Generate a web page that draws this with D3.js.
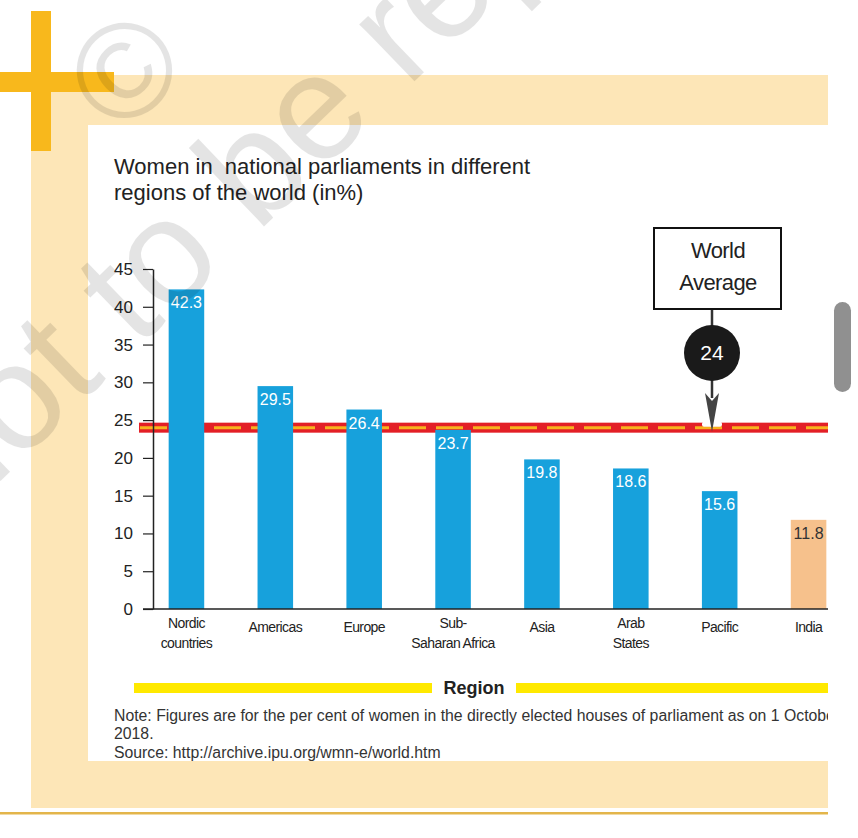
<!DOCTYPE html>
<html>
<head>
<meta charset="utf-8">
<script src="https://cdn.jsdelivr.net/npm/d3@7"></script>
<style>
  html, body { margin: 0; padding: 0; background: #fff; }
  svg { display: block; font-family: "Liberation Sans", Arial, sans-serif; }
</style>
</head>
<body>
<div id="chart"></div>
<script>
// Chart data
const regions = ["Nordic countries", "Americas", "Europe", "Sub-Saharan Africa", "Asia", "Arab States", "Pacific", "India"];
const regionLines = [["Nordic", "countries"], ["Americas"], ["Europe"], ["Sub-", "Saharan Africa"], ["Asia"], ["Arab", "States"], ["Pacific"], ["India"]];
const shares = [42.3, 29.5, 26.4, 23.7, 19.8, 18.6, 15.6, 11.8];
const worldAverage = 24;
const yTicks = [0, 5, 10, 15, 20, 25, 30, 35, 40, 45];

const titleLines = ["Women in  national parliaments in different", "regions of the world (in%)"];
const noteLines = [
    "Note: Figures are for the per cent of women in the directly elected houses of parliament as on 1 October",
    "2018.",
    "Source: http://archive.ipu.org/wmn-e/world.htm"
];

const W = 858, H = 838;
const PAGE_RIGHT = 828;
const BLUE = "#17a1dc", INDIA = "#f6c18c";
const PEACH = "#fde6b7", GOLD = "#f8b81c";

const svg = d3.select("#chart").append("svg")
    .attr("width", W)
    .attr("height", H);

svg.append("defs").append("clipPath")
    .attr("id", "page-clip")
    .append("rect")
    .attr("x", 0).attr("y", 0)
    .attr("width", PAGE_RIGHT).attr("height", H);

const page = svg.append("g").attr("clip-path", "url(#page-clip)");

// --- decorative frame ---
page.append("rect").attr("x", 31).attr("y", 75).attr("width", PAGE_RIGHT - 31).attr("height", 50).attr("fill", PEACH);
page.append("rect").attr("x", 31).attr("y", 75).attr("width", 57).attr("height", 733).attr("fill", PEACH);
page.append("rect").attr("x", 31).attr("y", 761).attr("width", PAGE_RIGHT - 31).attr("height", 47).attr("fill", PEACH);
page.append("rect").attr("x", 31).attr("y", 11).attr("width", 20).attr("height", 140).attr("fill", GOLD);
page.append("rect").attr("x", 0).attr("y", 72).attr("width", 114).attr("height", 20).attr("fill", GOLD);
page.append("rect").attr("x", 0).attr("y", 812).attr("width", PAGE_RIGHT).attr("height", 2.5).attr("fill", "#e3b54a");

// Title
page.append("text")
    .attr("x", 114).attr("y", 174)
    .style("font-size", "22px")
    .style("fill", "#222")
    .style("white-space", "pre")
    .selectAll("tspan")
    .data(titleLines)
    .enter().append("tspan")
    .attr("x", 114)
    .attr("dy", (d, i) => i === 0 ? 0 : 26)
    .text(d => d);

// --- scales ---
const x = d3.scaleBand()
    .domain(regions)
    .range([142, 853])
    .paddingInner(0.6)
    .paddingOuter(0.3);

const y = d3.scaleLinear()
    .domain([0, 45])
    .range([609, 269]);

const lineY = y(worldAverage);
const markX = 712;

// World average line (bars sit on top of it)
page.append("rect")
    .attr("x", 139).attr("y", lineY - 5)
    .attr("width", PAGE_RIGHT - 139).attr("height", 10)
    .attr("fill", "#e31f26");
page.append("line")
    .attr("x1", 140).attr("x2", PAGE_RIGHT)
    .attr("y1", lineY).attr("y2", lineY)
    .attr("stroke", "#f7b21e")
    .attr("stroke-width", 3)
    .attr("stroke-dasharray", "27,10");
page.append("rect")
    .attr("x", markX - 10).attr("y", lineY - 6)
    .attr("width", 20).attr("height", 5)
    .attr("rx", 2)
    .attr("fill", "#fff");

// Bars
page.selectAll(".bar")
    .data(regions)
    .enter().append("rect")
    .attr("class", "bar")
    .attr("x", d => x(d))
    .attr("width", x.bandwidth())
    .attr("y", (d, i) => y(shares[i]))
    .attr("height", (d, i) => y(0) - y(shares[i]))
    .attr("fill", d => d === "India" ? INDIA : BLUE);

page.selectAll(".bar-label")
    .data(regions)
    .enter().append("text")
    .attr("class", "bar-label")
    .attr("x", d => x(d) + x.bandwidth() / 2)
    .attr("y", (d, i) => y(shares[i]) + 19)
    .attr("text-anchor", "middle")
    .style("font-size", "16px")
    .style("fill", d => d === "India" ? "#333" : "#fff")
    .text((d, i) => shares[i]);

// Y axis
const yAxis = page.append("g")
    .attr("transform", "translate(153,0)")
    .call(d3.axisLeft(y).tickValues(yTicks).tickSize(10).tickSizeOuter(0).tickPadding(10));
yAxis.select(".domain").attr("stroke", "#222").attr("stroke-width", 1.5);
yAxis.selectAll(".tick line").attr("stroke", "#222").attr("stroke-width", 1.2);
yAxis.selectAll(".tick text")
    .style("font-size", "17px")
    .style("font-family", "\"Liberation Sans\", Arial, sans-serif")
    .style("fill", "#222");

// Baseline
page.append("line")
    .attr("x1", 143).attr("x2", PAGE_RIGHT)
    .attr("y1", y(0)).attr("y2", y(0))
    .attr("stroke", "#222")
    .attr("stroke-width", 1.5);

// Category labels
page.selectAll(".cat")
    .data(regions)
    .enter().append("text")
    .attr("class", "cat")
    .attr("text-anchor", "middle")
    .style("font-size", "14px")
    .style("letter-spacing", "-0.6px")
    .style("fill", "#222")
    .each(function (d, i) {
        const lines = regionLines[i];
        const cx = x(d) + x.bandwidth() / 2;
        d3.select(this).selectAll("tspan")
            .data(lines)
            .enter().append("tspan")
            .attr("x", cx)
            .attr("y", (t, j) => lines.length === 1 ? 632 : 628 + j * 20)
            .text(t => t);
    });

// Region strip
page.append("rect").attr("x", 134).attr("y", 683).attr("width", 298).attr("height", 10).attr("fill", "#ffe900");
page.append("rect").attr("x", 516).attr("y", 683).attr("width", PAGE_RIGHT - 516).attr("height", 10).attr("fill", "#ffe900");
page.append("text")
    .attr("x", 474).attr("y", 694)
    .attr("text-anchor", "middle")
    .style("font-size", "18px")
    .style("font-weight", "bold")
    .style("fill", "#222")
    .text("Region");

// Note
page.append("text")
    .style("font-size", "15.8px")
    .style("fill", "#333")
    .selectAll("tspan")
    .data(noteLines)
    .enter().append("tspan")
    .attr("x", 114)
    .attr("y", (d, i) => [721, 739, 758][i])
    .text(d => d);

// --- World average callout ---
const callout = page.append("g");
callout.append("line")
    .attr("x1", markX).attr("x2", markX)
    .attr("y1", 309).attr("y2", 398)
    .attr("stroke", "#333")
    .attr("stroke-width", 2.5);
callout.append("path")
    .attr("d", `M${markX - 7},393 L${markX},${lineY + 4} L${markX + 7},393 L${markX},401 Z`)
    .attr("fill", "#444");
callout.append("rect")
    .attr("x", 654).attr("y", 228)
    .attr("width", 127).attr("height", 81)
    .attr("fill", "#fff")
    .attr("stroke", "#111")
    .attr("stroke-width", 2);
callout.append("text")
    .attr("text-anchor", "middle")
    .style("font-size", "22px")
    .style("letter-spacing", "-0.6px")
    .style("fill", "#222")
    .selectAll("tspan")
    .data(["World", "Average"])
    .enter().append("tspan")
    .attr("x", 718)
    .attr("y", (d, i) => 258 + i * 32)
    .text(d => d);
callout.append("circle")
    .attr("cx", markX).attr("cy", 353).attr("r", 28)
    .attr("fill", "#1a1a1a");
callout.append("text")
    .attr("x", markX).attr("y", 360)
    .attr("text-anchor", "middle")
    .style("font-size", "21px")
    .style("fill", "#fff")
    .text(worldAverage);

// Watermark
const mark = page.append("g")
    .style("fill", "#000")
    .style("opacity", 0.1)
    .style("pointer-events", "none");
mark.append("text")
    .attr("transform", "translate(-43,523) rotate(-44)")
    .style("font-size", "150px")
    .text("not to be republished");
mark.append("text")
    .attr("transform", "translate(124,70) rotate(-44)")
    .attr("text-anchor", "middle")
    .attr("dy", "0.35em")
    .style("font-size", "135px")
    .text("\u00a9");

// Scrollbar of the viewer
svg.append("rect")
    .attr("x", 834).attr("y", 302)
    .attr("width", 17).attr("height", 90)
    .attr("rx", 8.5)
    .attr("fill", "#909090");
</script>
</body>
</html>
